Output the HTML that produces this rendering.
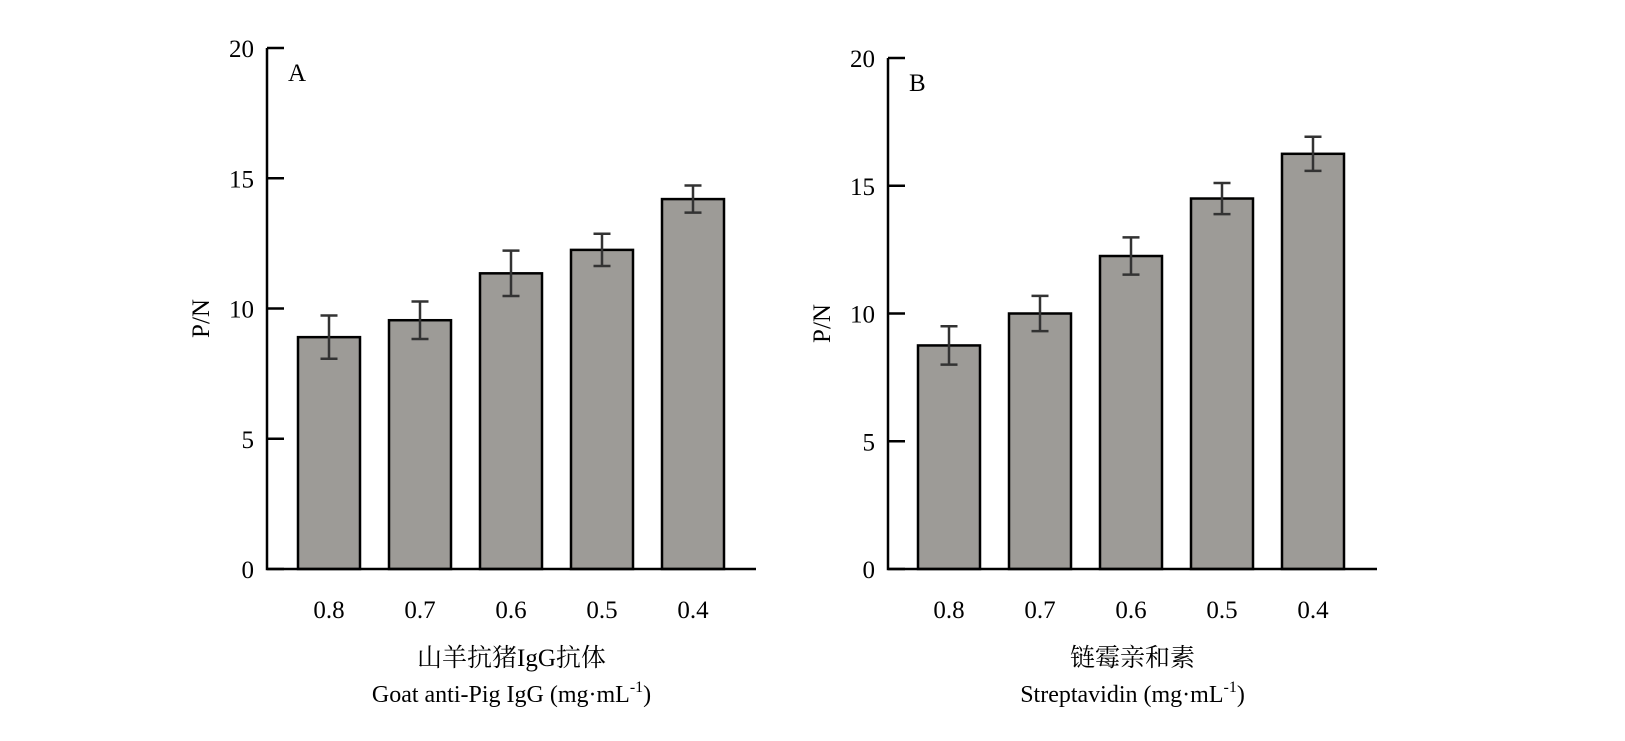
<!DOCTYPE html>
<html><head><meta charset="utf-8"><style>
body{margin:0;background:#fff}
svg text{font-family:"Liberation Serif","Noto Serif CJK SC",serif;fill:#000}
</style></head><body>
<svg width="1625" height="736" viewBox="0 0 1625 736" xmlns="http://www.w3.org/2000/svg">
<g id="chartA"></g>
<g id="chartB"></g>
</svg>
<script>
const categories = ["0.8","0.7","0.6","0.5","0.4"];
const valuesA = [8.9, 9.55, 11.35, 12.25, 14.2];
const errorsA = [0.83, 0.72, 0.87, 0.62, 0.52];
const valuesB = [8.75, 10.0, 12.25, 14.5, 16.25];
const errorsB = [0.75, 0.69, 0.73, 0.61, 0.67];
const yTicks = [0, 5, 10, 15, 20];
const NS = "http://www.w3.org/2000/svg";
function mk(parent, tag, attrs, text){
  const e = document.createElementNS(NS, tag);
  for (const k in attrs) e.setAttribute(k, attrs[k]);
  if (text !== undefined) e.textContent = text;
  parent.appendChild(e);
  return e;
}
function draw(gId, cfg, vals, errs){
  const g = document.getElementById(gId);
  const y = v => cfg.y0 - (cfg.y0 - cfg.y20) * v / 20;
  const x = i => cfg.c0 + i * 91;
  vals.forEach((v, i) => {
    const r = mk(g, "rect", {x: x(i) - 31, y: y(v), width: 62, height: y(0) - y(v), fill: "#9d9b97", stroke: "#000", "stroke-width": 2.5});
    
    
    const e = mk(g, "path", {d: `M${x(i)} ${y(v + errs[i])}V${y(v - errs[i])}M${x(i) - 8.5} ${y(v + errs[i])}H${x(i) + 8.5}M${x(i) - 8.5} ${y(v - errs[i])}H${x(i) + 8.5}`, stroke: "#333", "stroke-width": 2.5, fill: "none"});
    
    
    const t = mk(g, "text", {x: x(i), y: 618, "font-size": 25, "text-anchor": "middle"}, categories[i]);
    
    
  });
  const ax = mk(g, "path", {d: `M${cfg.ax} ${cfg.y20}V${cfg.y0}H${cfg.xe}`, stroke: "#000", "stroke-width": 2.5, fill: "none"});
  
  
  yTicks.forEach(t => {
    const tk = mk(g, "line", {x1: cfg.ax, x2: cfg.ax + 17, y1: y(t), y2: y(t), stroke: "#000", "stroke-width": 2.5});
    
    
    const lb = mk(g, "text", {x: cfg.ax - 13, y: y(t) + 9, "font-size": 25, "text-anchor": "end"}, String(t));
    
    
  });
  const pl = mk(g, "text", {x: cfg.ax + 21, y: cfg.y20 + 33, "font-size": 25}, cfg.letter);
  
  
  const yt = mk(g, "text", {x: 0, y: 0, "font-size": 25, "text-anchor": "middle", transform: `translate(${cfg.ax - 58},${(cfg.y0 + cfg.y20) / 2 + 10}) rotate(-90)`}, "P/N");
  
  
  const mid = (cfg.ax + cfg.xe) / 2;
  const c1 = mk(g, "text", {x: mid, y: 666, "font-size": 25, "text-anchor": "middle"}, cfg.cn);
  
  
  const c2 = mk(g, "text", {x: mid, y: 702, "font-size": 24, "text-anchor": "middle"});
  
  
  c2.innerHTML = cfg.en + ' (mg·mL<tspan dy="-10" font-size="16">-1</tspan><tspan dy="10">)</tspan>';
}
draw("chartA", {ax: 267, y0: 569, y20: 48, xe: 756, c0: 329, letter: "A", cn: "山羊抗猪IgG抗体", en: "Goat anti-Pig IgG"}, valuesA, errorsA);
draw("chartB", {ax: 888, y0: 569, y20: 58, xe: 1377, c0: 949, letter: "B", cn: "链霉亲和素", en: "Streptavidin"}, valuesB, errorsB);
</script>
</body></html>
